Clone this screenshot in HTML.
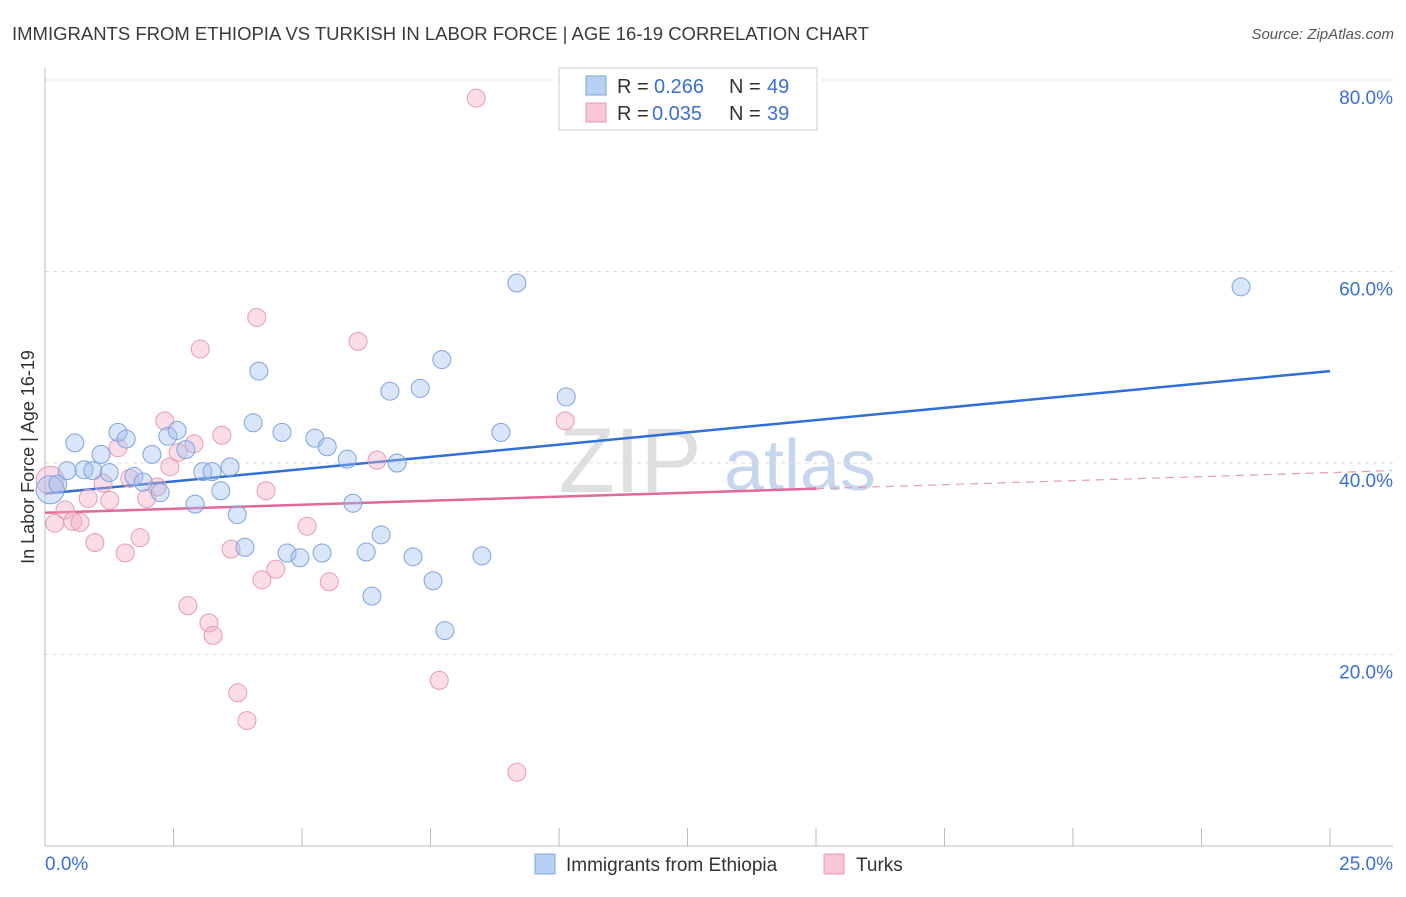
<!DOCTYPE html>
<html><head><meta charset="utf-8"><style>
body{margin:0;background:#fff;font-family:"Liberation Sans",sans-serif;}
svg text{font-family:"Liberation Sans",sans-serif;}
</style></head><body>
<svg id="chart" width="1406" height="892" viewBox="0 0 1406 892" xmlns="http://www.w3.org/2000/svg">
<text x="12" y="40" font-size="18.5" fill="#3a3a3a">IMMIGRANTS FROM ETHIOPIA VS TURKISH IN LABOR FORCE | AGE 16-19 CORRELATION CHART</text>
<text x="1394" y="39" font-size="15" fill="#555" font-style="italic" text-anchor="end">Source: ZipAtlas.com</text>
<g>
<text x="630" y="492" font-size="92" fill="#d8d8d8" font-family="Liberation Serif" text-anchor="middle" opacity="0.8">ZIP</text>
<text x="800" y="490" font-size="72" fill="#b9cdea" text-anchor="middle" opacity="0.8">atlas</text>
</g>
<g id="grid"></g>
<g id="axes"></g>
<g id="lines"></g>
<g id="points"></g>
<text transform="translate(34,457) rotate(-90)" font-size="18" fill="#333" text-anchor="middle">In Labor Force | Age 16-19</text>
<g>
<rect x="559" y="68" width="258" height="62" fill="#fff" stroke="#ccc"/>
<rect x="586" y="76" width="20" height="19" fill="#b8d0f4" stroke="#7da3e0"/>
<text x="617" y="93" font-size="20" fill="#333">R =</text>
<text x="654" y="93" font-size="20" fill="#3b6fd0">0.266</text>
<text x="729" y="93" font-size="20" fill="#333">N =</text>
<text x="767" y="93" font-size="20" fill="#3b6fd0">49</text>
<rect x="586" y="103" width="20" height="19" fill="#f9c6d6" stroke="#e89ab3"/>
<text x="617" y="120" font-size="20" fill="#333">R =</text>
<text x="652" y="120" font-size="20" fill="#3b6fd0">0.035</text>
<text x="729" y="120" font-size="20" fill="#333">N =</text>
<text x="767" y="120" font-size="20" fill="#3b6fd0">39</text>
</g>
<g>
<rect x="535" y="854" width="20" height="20" fill="#b8d0f4" stroke="#7da3e0"/>
<text x="566" y="871" font-size="19" fill="#333">Immigrants from Ethiopia</text>
<rect x="824" y="854" width="20" height="20" fill="#f9c6d6" stroke="#e89ab3"/>
<text x="856" y="871" font-size="19" fill="#333">Turks</text>
</g>
</svg>
<script>
const xTicks=[0,2.5,5,7.5,10,12.5,15,17.5,20,22.5,25];
const yTicks=[20,40,60,80];
const yTickLabels=["20.0%","40.0%","60.0%","80.0%"];
const xLabels=["0.0%","25.0%"];
const blueX=[0.10,0.25,0.43,0.58,0.76,0.93,1.09,1.25,1.42,1.58,1.73,1.91,2.08,2.24,2.39,2.57,2.74,2.92,3.07,3.25,3.42,3.60,3.74,3.89,4.05,4.16,4.61,4.71,4.96,5.25,5.39,5.49,5.88,5.99,6.25,6.36,6.54,6.71,6.85,7.16,7.30,7.55,7.72,7.78,8.50,8.87,9.18,10.14,23.27];
const blueY=[37.2,37.8,39.2,42.1,39.3,39.2,40.9,39.0,43.2,42.5,38.6,38.0,40.9,36.9,42.8,43.4,41.4,35.7,39.1,39.1,37.1,39.6,34.6,31.2,44.2,49.6,43.2,30.6,30.1,42.6,30.6,41.7,40.4,35.8,30.7,26.1,32.5,47.5,40.0,30.2,47.8,27.7,50.8,22.5,30.3,43.2,58.8,46.9,58.4];
const pinkX=[0.10,0.19,0.39,0.54,0.68,0.84,0.97,1.13,1.26,1.42,1.56,1.65,1.85,1.98,2.18,2.33,2.43,2.59,2.78,2.90,3.02,3.19,3.27,3.44,3.62,3.75,3.93,4.12,4.22,4.30,4.49,5.10,5.53,6.09,6.46,7.67,8.39,9.18,10.12];
const pinkY=[38.2,33.7,35.1,33.9,33.8,36.3,31.7,37.9,36.1,41.6,30.6,38.4,32.2,36.3,37.5,44.4,39.6,41.1,25.1,42.0,51.9,23.3,22.0,42.9,31.0,16.0,13.1,55.2,27.8,37.1,28.9,33.4,27.6,52.7,40.3,17.3,78.1,7.7,44.4];
const blueTrend=[36.8,49.6];
const pinkTrend=[34.8,39.2];
const NS="http://www.w3.org/2000/svg";
const X=v=>45+v*51.4;
const Y=v=>846-v*9.575;
function mk(tag,attrs,parent){const e=document.createElementNS(NS,tag);for(const k in attrs)e.setAttribute(k,attrs[k]);document.getElementById(parent).appendChild(e);return e;}
yTicks.forEach((t,i)=>{
 const g=mk('line',{x1:45,x2:1393,y1:Y(t),y2:Y(t),stroke:'#ddd','stroke-dasharray':'4,4'},'grid');
 
 
 const l=mk('text',{x:1393,y:Y(t)+24,'font-size':19,fill:'#3b6fd0','text-anchor':'end'},'axes');
 l.textContent=yTickLabels[i];
 
 
});
const ya=mk('line',{x1:45,x2:45,y1:68,y2:846,stroke:'#bbb'},'axes');


const xa=mk('line',{x1:45,x2:1393,y1:846,y2:846,stroke:'#bbb'},'axes');


xTicks.forEach(t=>{const tk=mk('line',{x1:X(t),x2:X(t),y1:828,y2:846,stroke:'#bbb'},'axes');
 
 });
const xl0=mk('text',{x:45,y:870,'font-size':19,fill:'#3b6fd0'},'axes');xl0.textContent=xLabels[0];


const xl1=mk('text',{x:1393,y:870,'font-size':19,fill:'#3b6fd0','text-anchor':'end'},'axes');xl1.textContent=xLabels[1];


function pts(xs,ys,fill,stroke,name){xs.forEach((x,i)=>{
 const c=mk('circle',{cx:X(x),cy:Y(ys[i]),r:i===0?14:9,fill:fill,stroke:stroke,'stroke-width':1},'points');
 
 });}
pts(pinkX,pinkY,'rgba(245,170,195,0.4)','#e89ab3','turks-point');
pts(blueX,blueY,'rgba(160,190,240,0.4)','#7da3e0','ethiopia-point');
const bl=mk('line',{x1:X(0),y1:Y(blueTrend[0]),x2:X(25),y2:Y(blueTrend[1]),stroke:'#2f6fd6','stroke-width':2.5},'lines');


const ps=(pinkTrend[1]-pinkTrend[0])/26.2;
const pl=mk('line',{x1:X(0),y1:Y(pinkTrend[0]),x2:X(15),y2:Y(pinkTrend[0]+ps*15),stroke:'#e2699a','stroke-width':2.5},'lines');


const pd=mk('line',{x1:X(15),y1:Y(pinkTrend[0]+ps*15),x2:X(26.2),y2:Y(pinkTrend[1]),stroke:'#e89ab3','stroke-width':1.2,'stroke-dasharray':'8,6'},'lines');


</script>
</body></html>
